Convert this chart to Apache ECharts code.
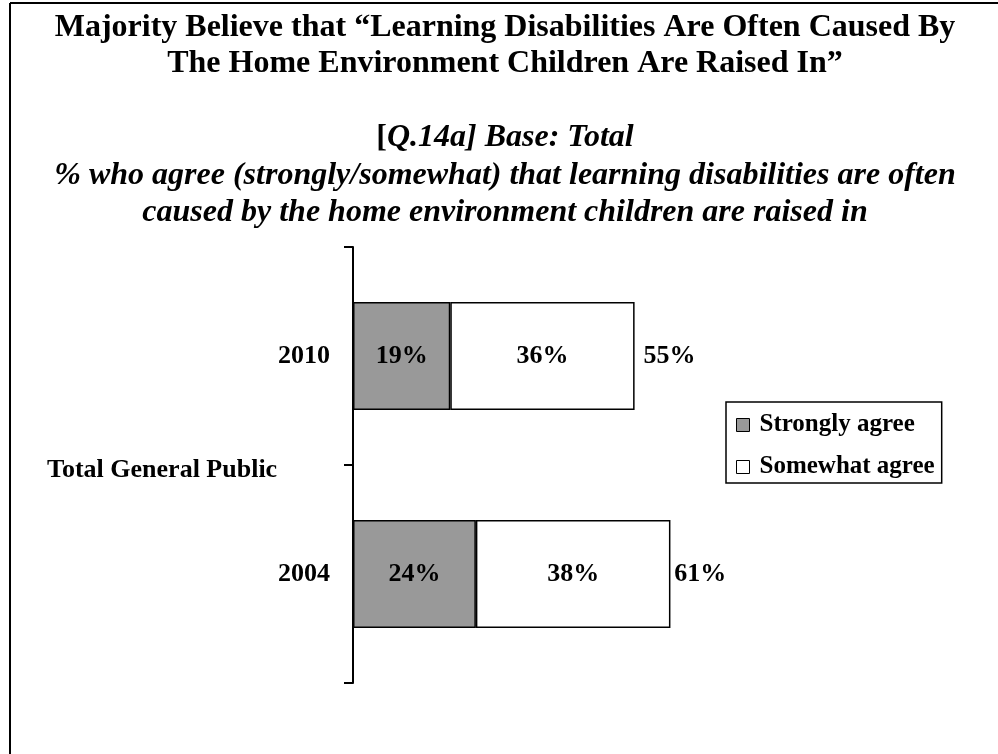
<!DOCTYPE html>
<html>
<head>
<meta charset="utf-8">
<title>Learning disabilities and the home environment</title>
<script src="https://cdn.jsdelivr.net/npm/echarts@6/dist/echarts.min.js"></script>
<style>
  html, body { margin: 0; padding: 0; background: #ffffff; }
  #chart { width: 998px; height: 754px; }
</style>
</head>
<body>
<div id="chart"></div>
<script>
// Survey years, bottom to top on the category axis
const years = ['2004', '2010'];
// Percent who agree, by strength of agreement
const stronglyAgree = [24, 19];
const somewhatAgree = [38, 36];
// Reported totals (strongly + somewhat, as published)
const totalAgree = [61, 55];
const seriesNames = ['Strongly agree', 'Somewhat agree'];
const groupLabel = 'Total General Public';

const serif = '"Liberation Serif", "Times New Roman", serif';
const chart = echarts.init(document.getElementById('chart'), null, { renderer: 'canvas' });

const barLabel = {
  show: true,
  position: 'inside',
  formatter: '{c}%',
  color: '#000',
  fontFamily: serif,
  fontWeight: 'bold',
  fontSize: 26
};

chart.setOption({
  backgroundColor: '#ffffff',
  animation: false,
  title: [
    {
      text: 'Majority Believe that \u201cLearning Disabilities Are Often Caused By\nThe Home Environment Children Are Raised In\u201d',
      left: 505,
      textAlign: 'center',
      top: 10,
      padding: 0,
      textStyle: {
        fontFamily: serif,
        fontWeight: 'bold',
        fontSize: 32,
        lineHeight: 36,
        color: '#000'
      }
    },
    {
      text: '{n|[}{i|Q.14a] Base: Total}\n{i|% who agree (strongly/somewhat) that learning disabilities are often}\n{i|caused by the home environment children are raised in}',
      left: 505,
      textAlign: 'center',
      top: 119,
      padding: 0,
      textStyle: {
        fontFamily: serif,
        fontSize: 32,
        lineHeight: 37.5,
        color: '#000',
        rich: {
          n: { fontFamily: serif, fontWeight: 'bold', fontStyle: 'normal', fontSize: 32, lineHeight: 37.5, color: '#000' },
          i: { fontFamily: serif, fontWeight: 'bold', fontStyle: 'italic', fontSize: 32, lineHeight: 37.5, color: '#000' }
        }
      }
    }
  ],
  legend: {
    data: seriesNames,
    orient: 'vertical',
    left: 726,
    top: 402,
    icon: 'rect',
    itemWidth: 13,
    itemHeight: 13,
    itemGap: 16,
    padding: [10, 7, 3, 10],
    borderColor: '#000',
    borderWidth: 1.5,
    borderRadius: 0,
    selectedMode: false,
    itemStyle: { borderColor: '#000', borderWidth: 1 },
    textStyle: {
      fontFamily: serif,
      fontWeight: 'bold',
      fontSize: 25,
      lineHeight: 26,
      color: '#000',
      padding: [0, 0, 0, 5]
    }
  },
  grid: { left: 353, top: 247, width: 512, height: 436, containLabel: false },
  xAxis: {
    type: 'value',
    min: 0,
    max: 100,
    show: false
  },
  yAxis: {
    type: 'category',
    data: years,
    axisLine: { show: true, lineStyle: { color: '#000', width: 2 } },
    axisTick: { show: true, alignWithLabel: false, length: 9, lineStyle: { color: '#000', width: 2 } },
    axisLabel: {
      margin: 23,
      color: '#000',
      fontFamily: serif,
      fontWeight: 'bold',
      fontSize: 26
    },
    splitLine: { show: false }
  },
  series: [
    {
      name: 'Total',
      type: 'bar',
      data: totalAgree,
      barCategoryGap: '50.5%',
      barGap: '-100%',
      silent: true,
      z: 1,
      itemStyle: { color: 'rgba(0,0,0,0)', borderWidth: 0 },
      label: {
        show: true,
        position: 'right',
        distance: 9,
        formatter: '{c}%',
        color: '#000',
        fontFamily: serif,
        fontWeight: 'bold',
        fontSize: 26
      }
    },
    {
      name: seriesNames[0],
      type: 'bar',
      stack: 'agree',
      data: stronglyAgree,
      barCategoryGap: '50.5%',
      barGap: '-100%',
      z: 2,
      itemStyle: { color: '#999999', borderColor: '#000', borderWidth: 1.5 },
      label: barLabel
    },
    {
      name: seriesNames[1],
      type: 'bar',
      stack: 'agree',
      data: somewhatAgree,
      barCategoryGap: '50.5%',
      barGap: '-100%',
      z: 2,
      itemStyle: { color: '#ffffff', borderColor: '#000', borderWidth: 1.5 },
      label: barLabel
    }
  ],
  graphic: [
    // frame: top and left rules
    { type: 'line', shape: { x1: 10, y1: 3, x2: 998, y2: 3 }, style: { stroke: '#000', lineWidth: 2 }, silent: true },
    { type: 'line', shape: { x1: 10, y1: 3, x2: 10, y2: 754 }, style: { stroke: '#000', lineWidth: 2 }, silent: true },
    // group label for the category axis
    {
      type: 'text',
      left: 47,
      top: 457,
      silent: true,
      style: {
        text: groupLabel,
        fill: '#000',
        font: 'bold 26px ' + serif
      }
    }
  ]
});
</script>
</body>
</html>
